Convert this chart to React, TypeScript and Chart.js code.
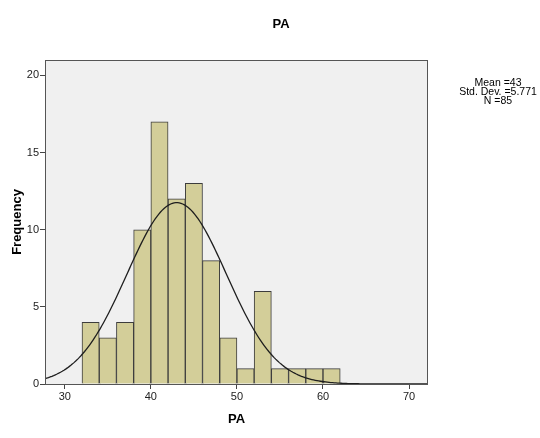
import React, { useEffect, useRef } from "react";
import { Chart, registerables } from "chart.js";

Chart.register(...registerables);

const chartTitle = "PA";
const xAxisTitle = "PA";
const yAxisTitle = "Frequency";
const binStarts = [32, 34, 36, 38, 40, 42, 44, 46, 48, 50, 52, 54, 56, 58, 60];
const frequencies = [4, 3, 4, 10, 17, 12, 13, 8, 3, 1, 6, 1, 1, 1, 1];
const binWidth = 2;
const statMean = 43;
const statSD = 5.771;
const statN = 85;
const xTicks = [30, 40, 50, 60, 70];
const yTicks = [0, 5, 10, 15, 20];
const xMin = 27.7;
const xMax = 72.2;
const yMax = 21;
const statLines = [`Mean =${statMean}`, `Std. Dev. =${statSD}`, `N =${statN}`];

const FONT = "Arial, 'Liberation Sans', sans-serif";

export default function App() {
  const ref = useRef<HTMLCanvasElement | null>(null);

  useEffect(() => {
    const canvas = ref.current;
    if (!canvas) return;

    const barData = binStarts.map((s, i) => ({ x: s + binWidth / 2, y: frequencies[i] }));
    const curveData: { x: number; y: number }[] = [];
    const scaleFactor = (statN * binWidth) / (statSD * Math.sqrt(2 * Math.PI));
    for (let x = xMin; x <= xMax + 1e-9; x += 0.2) {
      const z = (x - statMean) / statSD;
      curveData.push({ x, y: scaleFactor * Math.exp(-0.5 * z * z) });
    }

    const framePlugin = {
      id: "frame",
      beforeDraw(chart: any) {
        const { ctx, chartArea: a } = chart;
        ctx.save();
        ctx.fillStyle = "#f0f0f0";
        ctx.fillRect(a.left, a.top, a.right - a.left, a.bottom - a.top);
        ctx.restore();
      },
      afterDraw(chart: any) {
        const { ctx, chartArea: a } = chart;
        ctx.save();
        ctx.strokeStyle = "#555555";
        ctx.lineWidth = 1;
        ctx.strokeRect(Math.round(a.left) + 0.5, Math.round(a.top) + 0.5, Math.round(a.right - a.left) - 1, Math.round(a.bottom - a.top));
        ctx.fillStyle = "#000000";
        ctx.textAlign = "center";
        ctx.textBaseline = "middle";
        ctx.font = `bold 13px ${FONT}`;
        ctx.fillText(chartTitle, 281, 24);
        ctx.fillText(xAxisTitle, (a.left + a.right) / 2, 419);
        ctx.save();
        ctx.translate(17, (a.top + a.bottom) / 2);
        ctx.rotate(-Math.PI / 2);
        ctx.fillText(yAxisTitle, 0, 0);
        ctx.restore();
        ctx.font = `10.5px ${FONT}`;
        statLines.forEach((t, i) => ctx.fillText(t, 498, 83 + i * 9.3));
        ctx.restore();
      },
    };

    const chart = new Chart(canvas, {
      type: "bar",
      data: {
        datasets: [
          {
            type: "line",
            data: curveData,
            borderColor: "#1e1e1e",
            borderWidth: 1.3,
            pointRadius: 0,
            tension: 0,
            fill: false,
            order: 0,
          } as any,
          {
            type: "bar",
            data: barData,
            backgroundColor: "#d3ce99",
            borderColor: "#3c3c3c",
            borderWidth: 1,
            barPercentage: 1,
            categoryPercentage: 1,
            order: 1,
          } as any,
        ],
      },
      options: {
        responsive: false,
        animation: false,
        devicePixelRatio: 1,
        layout: { padding: { top: 60, right: 112, left: 0, bottom: 0 } },
        plugins: { legend: { display: false }, tooltip: { enabled: false }, title: { display: false } },
        scales: {
          x: {
            type: "linear",
            min: xMin,
            max: xMax,
            offset: false,
            afterBuildTicks: (s: any) => {
              s.ticks = xTicks.map((v) => ({ value: v }));
            },
            afterFit: (s: any) => {
              s.height = 54;
            },
            grid: { display: true, offset: false, drawOnChartArea: false, drawTicks: true, tickLength: 5, color: "#444444" },
            border: { display: false },
            ticks: { color: "#222222", font: { family: FONT, size: 11 }, padding: 1, maxRotation: 0, autoSkip: false },
          },
          y: {
            type: "linear",
            min: 0,
            max: yMax,
            afterBuildTicks: (s: any) => {
              s.ticks = yTicks.map((v) => ({ value: v }));
            },
            afterFit: (s: any) => {
              s.width = 45;
            },
            grid: { display: true, drawOnChartArea: false, drawTicks: true, tickLength: 5, color: "#444444" },
            border: { display: false },
            ticks: { color: "#222222", font: { family: FONT, size: 11 }, padding: 1, autoSkip: false },
          },
        },
      },
      plugins: [framePlugin],
    } as any);

    return () => chart.destroy();
  }, []);

  return (
    <div style={{ position: "absolute", left: 0, top: 0, width: 540, height: 438, background: "#ffffff" }}>
      <canvas ref={ref} width={540} height={438} style={{ width: 540, height: 438, display: "block" }} />
    </div>
  );
}
